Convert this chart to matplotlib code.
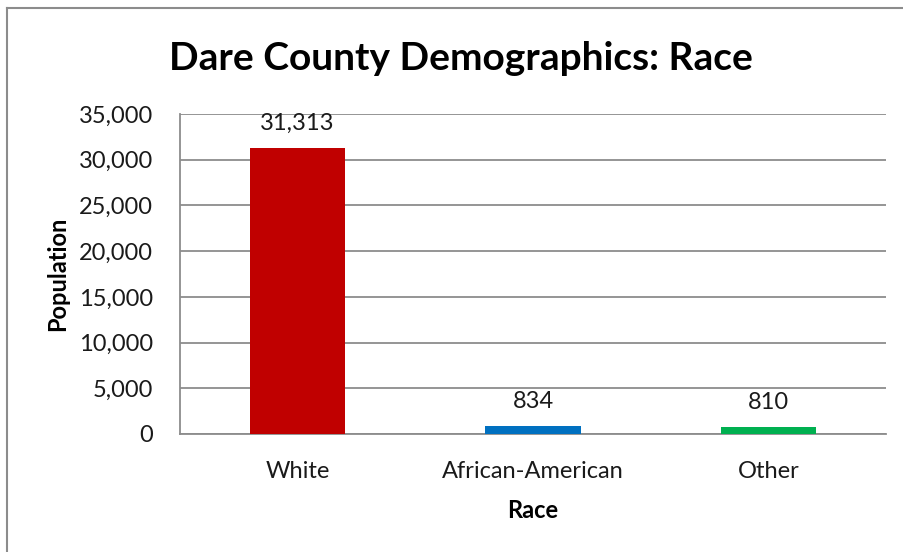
import matplotlib
matplotlib.use("Agg")
import matplotlib.pyplot as plt
from matplotlib.lines import Line2D
from matplotlib.ticker import FuncFormatter

categories = ["White", "African-American", "Other"]
values = [31313, 834, 810]
colors = ["#C00000", "#0070C0", "#00B050"]
yticks = [0, 5000, 10000, 15000, 20000, 25000, 30000, 35000]

plt.rcParams['font.family'] = ['Lato', 'DejaVu Sans']

W, H = 904, 552
fig = plt.figure(figsize=(W / 100, H / 100), dpi=100)
ax = fig.add_axes([180 / W, 118 / H, 706 / W, 320 / H])

x = range(len(categories))
ax.bar(x, values, width=0.405, color=colors, zorder=3)
for xi, v in zip(x, values):
    ax.annotate(f"{v:,}", (xi, v), xytext=(0, 10), textcoords="offset points",
                ha="center", va="bottom", fontsize=17, color="#1a1a1a")

ax.set_xlim(-0.5, len(categories) - 0.5)
ax.set_ylim(0, 35000)
ax.set_yticks(yticks)
ax.yaxis.set_major_formatter(FuncFormatter(lambda v, p: f"{int(v):,}"))
ax.set_xticks(list(x))
ax.set_xticklabels(categories)
ax.tick_params(axis="both", length=0, labelsize=17, colors="#1a1a1a")
ax.tick_params(axis="y", pad=19.5)
ax.tick_params(axis="x", pad=19.5)
ax.grid(axis="y", color="#8c8c8c", linewidth=1.3, zorder=0)
for s in ["top", "right"]:
    ax.spines[s].set_visible(False)
for s in ["left", "bottom"]:
    ax.spines[s].set_color("#8c8c8c")
    ax.spines[s].set_linewidth(1.3)

ax.set_ylabel("Population", fontsize=17, fontweight="bold", labelpad=7)
ax.set_xlabel("Race", fontsize=17, fontweight="bold", labelpad=12)

fig.text(461 / W, 1 - 59 / H, "Dare County Demographics: Race", ha="center",
         va="center", fontsize=28, fontweight="bold", color="black")

fig.add_artist(Line2D([7 / W, 1], [1 - 8 / H, 1 - 8 / H], transform=fig.transFigure,
                      color="#8c8c8c", linewidth=1.5))
fig.add_artist(Line2D([7 / W, 7 / W], [0, 1 - 8 / H], transform=fig.transFigure,
                      color="#8c8c8c", linewidth=1.5))

fig.savefig("out.png", dpi=100)
